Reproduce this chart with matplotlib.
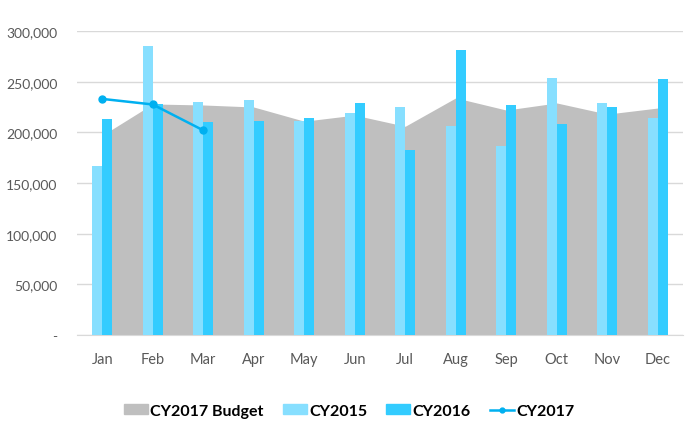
import matplotlib
matplotlib.use("Agg")
import matplotlib.pyplot as plt
import numpy as np
from matplotlib.ticker import FuncFormatter
from matplotlib.patches import Patch
from matplotlib.lines import Line2D

months = ["Jan", "Feb", "Mar", "Apr", "May", "Jun", "Jul", "Aug", "Sep", "Oct", "Nov", "Dec"]
budget_2017 = [197000, 228000, 227000, 225000, 211000, 217000, 206000, 234000, 222000, 229000, 218000, 224000]
cy2015 = [167000, 285000, 229500, 232000, 211500, 219000, 225000, 206500, 186500, 253500, 228500, 214000]
cy2016 = [213500, 228000, 210000, 211000, 214500, 229000, 183000, 281000, 227000, 208000, 225000, 252500]
cy2017 = [233000, 227500, 202000]

plt.rcParams["font.family"] = ["Lato", "DejaVu Sans"]

fig = plt.figure(figsize=(6.98, 4.35), dpi=100)
ax = fig.add_axes([0.1103, 0.2276, 0.8682, 0.6988])

x = np.arange(len(months))
ax.fill_between(x, budget_2017, color="#BFBFBF", linewidth=0, zorder=2)
ax.bar(x - 0.1, cy2015, width=0.2, color="#87DFFF", zorder=3)
ax.bar(x + 0.1, cy2016, width=0.2, color="#33CCFF", zorder=3)
ax.plot(x[:len(cy2017)], cy2017, color="#00B0F0", linewidth=1.8,
        marker="o", markersize=5, zorder=4)

ax.set_xlim(-0.5, 11.5)
ax.set_ylim(0, 300000)
ax.set_yticks(np.arange(0, 300001, 50000))
ax.yaxis.set_major_formatter(FuncFormatter(lambda v, p: "-" if v == 0 else f"{int(v):,}"))
ax.set_xticks(x)
ax.set_xticklabels(months)
ax.grid(axis="y", color="#D9D9D9", linewidth=1, zorder=0)
ax.set_axisbelow(True)
for s in ["top", "right", "left"]:
    ax.spines[s].set_visible(False)
ax.spines["bottom"].set_color("#D9D9D9")
ax.tick_params(axis="both", length=0, colors="#595959", labelsize=10.5)
ax.tick_params(axis="x", pad=12)
ax.tick_params(axis="y", pad=14, labelsize=10)

handles = [
    Patch(color="#BFBFBF", label="CY2017 Budget"),
    Patch(color="#87DFFF", label="CY2015"),
    Patch(color="#33CCFF", label="CY2016"),
    Line2D([], [], color="#00B0F0", linewidth=1.8, marker="o", markersize=3.5, label="CY2017"),
]
fig.legend(handles=handles, loc="center", bbox_to_anchor=(0.5, 0.053), ncol=4,
           frameon=False, prop={"weight": "bold", "size": 11.5},
           handlelength=1.5, handleheight=0.6, handletextpad=0.15, columnspacing=1.2)

fig.savefig("out.png", dpi=100)
